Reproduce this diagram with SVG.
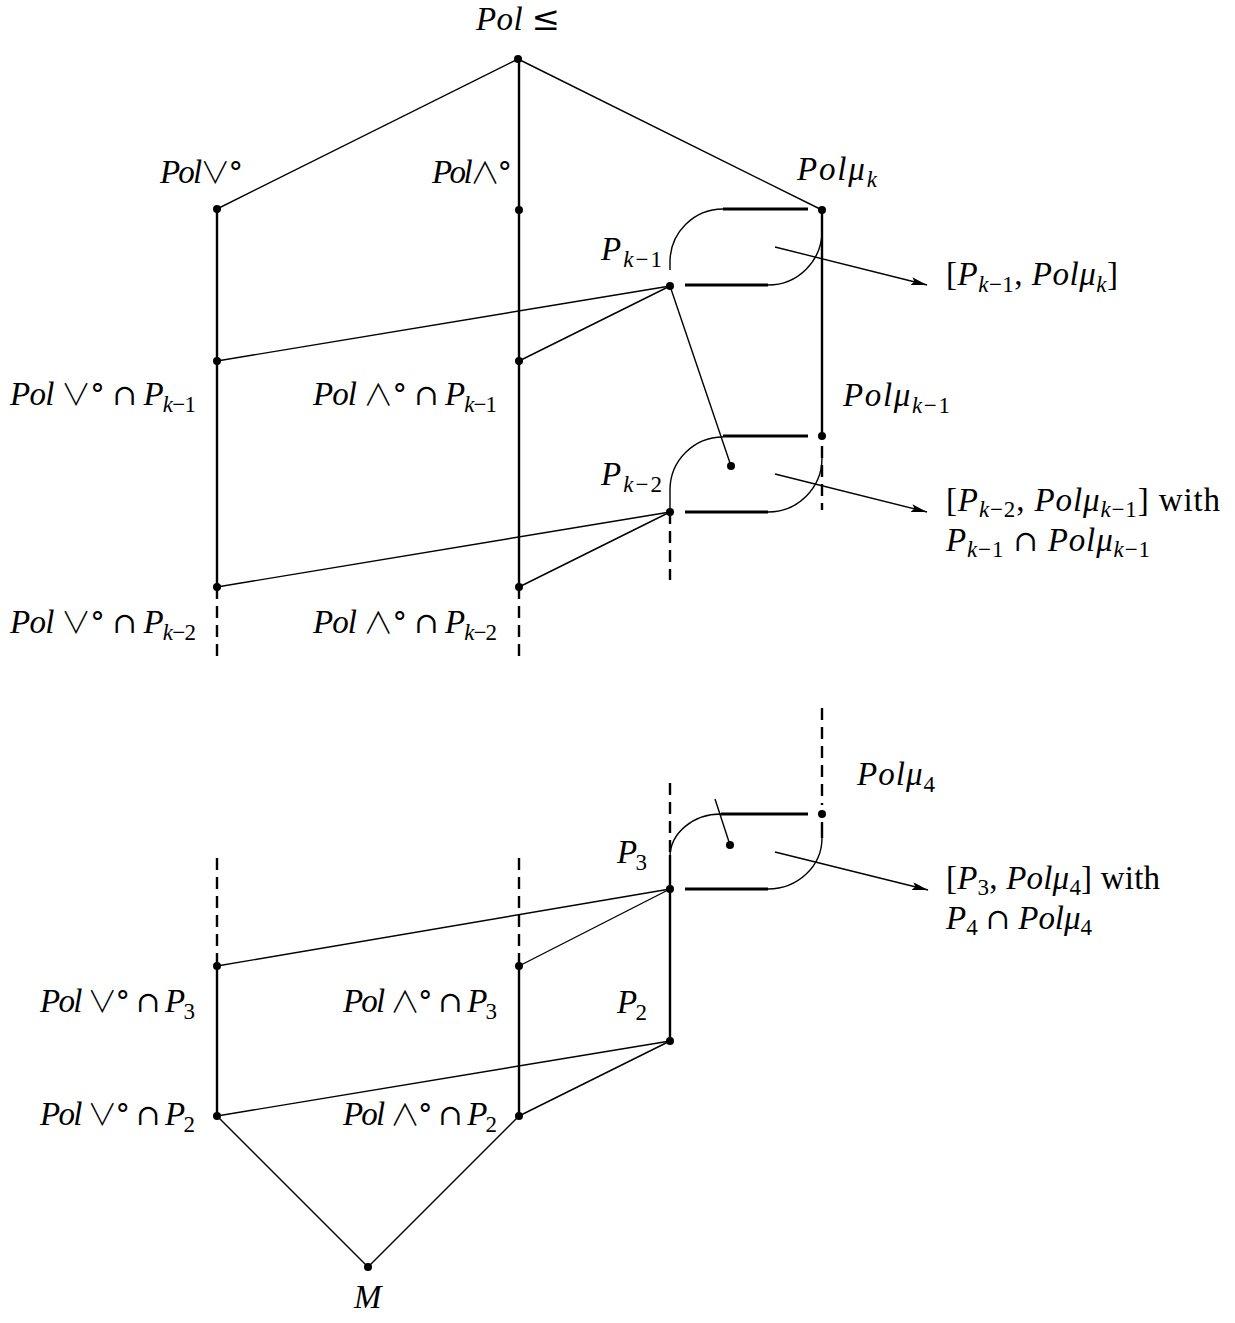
<svg xmlns="http://www.w3.org/2000/svg" width="1235" height="1323" viewBox="0 0 1235 1323">
<defs>
<style>
.thin{stroke:#000;stroke-width:1.4;fill:none}
.v{stroke:#000;stroke-width:2.4;fill:none}
.d{stroke:#000;stroke-width:2.4;fill:none;stroke-dasharray:12 7}
.b{stroke:#000;stroke-width:3;fill:none}
.arr{stroke:#000;stroke-width:1.4;fill:none;marker-end:url(#ah)}
.dot{fill:#000}
text{font-family:"Liberation Serif","DejaVu Serif",serif;font-size:33px;fill:#000}
.i{font-style:italic}
.s{font-size:23px}
.m{font-family:"DejaVu Serif","Liberation Serif",serif;font-size:29px}
.w{font-family:"Noto Sans CJK JP","DejaVu Serif",sans-serif;font-weight:300;font-size:30px}
</style>
<marker id="ah" viewBox="0 0 16 8" refX="16" refY="4" markerWidth="16" markerHeight="8" markerUnits="userSpaceOnUse" orient="auto">
<path d="M0,0 L16,4 L0,8 L3,4 Z" fill="#000"/>
</marker>
</defs>
<g id="connectors">
<line class="thin" x1="518" y1="59" x2="217" y2="209"/>
<line class="thin" x1="518" y1="59" x2="822" y2="210"/>
<line class="v" x1="519" y1="59" x2="519" y2="587"/>
<line class="d" x1="519" y1="587" x2="519" y2="660"/>
<line class="v" x1="217" y1="209" x2="217" y2="587"/>
<line class="d" x1="217" y1="587" x2="217" y2="660"/>
<line class="v" x1="822" y1="210" x2="822" y2="436"/>
<line class="d" x1="822" y1="446" x2="822" y2="510"/>
<line class="thin" x1="217" y1="361" x2="670" y2="286"/>
<line class="thin" x1="519" y1="361" x2="670" y2="286"/>
<line class="thin" x1="670" y1="286" x2="731" y2="466"/>
<line class="thin" x1="217" y1="587" x2="670" y2="512"/>
<line class="thin" x1="519" y1="587" x2="670" y2="512"/>
<line class="d" x1="670" y1="512" x2="670" y2="580"/>
<path class="thin" d="M670,270 L670,262 A53,53 0 0 1 723,209"/>
<line class="b" x1="723" y1="209" x2="808" y2="209"/>
<line class="b" x1="685" y1="285" x2="768" y2="285"/>
<path class="thin" d="M768,285 A54,54 0 0 0 822,231"/>
<line class="arr" x1="775" y1="247" x2="927" y2="285"/>
<path class="thin" d="M670,512 L670,490 A53,53 0 0 1 723,437"/>
<line class="b" x1="723" y1="436" x2="808" y2="436"/>
<line class="b" x1="685" y1="512" x2="768" y2="512"/>
<path class="thin" d="M768,512 A54,54 0 0 0 822,458"/>
<line class="arr" x1="775" y1="474" x2="927" y2="512"/>
<line class="d" x1="217" y1="858" x2="217" y2="966"/>
<line class="v" x1="217" y1="966" x2="217" y2="1116"/>
<line class="d" x1="519" y1="858" x2="519" y2="966"/>
<line class="v" x1="519" y1="966" x2="519" y2="1116"/>
<line class="d" x1="670" y1="783" x2="670" y2="853"/>
<line class="v" x1="670" y1="855" x2="670" y2="1041"/>
<line class="d" x1="822" y1="708" x2="822" y2="805"/>
<line class="v" x1="822" y1="822" x2="822" y2="838"/>
<path class="thin" d="M670,857 A51,43 0 0 1 721,814"/>
<line class="b" x1="721" y1="814" x2="808" y2="814"/>
<line class="b" x1="685" y1="889" x2="768" y2="889"/>
<path class="thin" d="M768,889 A54,51 0 0 0 822,838"/>
<line class="thin" x1="730" y1="845" x2="715" y2="799"/>
<line class="arr" x1="775" y1="852" x2="928" y2="890"/>
<line class="thin" x1="217" y1="966" x2="670" y2="889"/>
<line class="thin" x1="519" y1="966" x2="670" y2="889"/>
<line class="thin" x1="217" y1="1116" x2="670" y2="1041"/>
<line class="thin" x1="519" y1="1116" x2="670" y2="1041"/>
<line class="thin" x1="217" y1="1116" x2="368" y2="1267"/>
<line class="thin" x1="519" y1="1116" x2="368" y2="1267"/>
</g>
<g id="n-top"><circle class="dot" cx="518" cy="59" r="4"/><text x="476" y="30" textLength="84" lengthAdjust="spacing"><tspan class="i">Pol</tspan> <tspan class="m" style="font-size:34px">≤</tspan></text></g>
<g id="n-polor"><circle class="dot" cx="217" cy="209" r="4"/><text x="160" y="183" textLength="83" lengthAdjust="spacing"><tspan class="i">Pol</tspan><tspan class="w">∨</tspan><tspan class="m">°</tspan></text></g>
<g id="n-poland"><circle class="dot" cx="519" cy="210" r="4"/><text x="432" y="183" textLength="80" lengthAdjust="spacing"><tspan class="i">Pol</tspan><tspan class="w">∧</tspan><tspan class="m">°</tspan></text></g>
<g id="n-polmuk"><circle class="dot" cx="822" cy="210" r="4"/><text x="797" y="180" textLength="80" lengthAdjust="spacing"><tspan class="i">Polμ</tspan><tspan class="s i" dy="7">k</tspan></text></g>
<g id="n-pk1"><circle class="dot" cx="670" cy="286" r="4"/><text x="601" y="260" textLength="61" lengthAdjust="spacing"><tspan class="i">P</tspan><tspan class="s" dy="7"><tspan class="i">k</tspan>−1</tspan></text></g>
<g id="n-or-pk1"><circle class="dot" cx="217" cy="361" r="4"/><text x="10" y="405" textLength="186" lengthAdjust="spacing"><tspan class="i">Pol</tspan> <tspan class="w">∨</tspan><tspan class="m">° ∩</tspan> <tspan class="i">P</tspan><tspan class="s" dy="7"><tspan class="i">k</tspan>−1</tspan></text></g>
<g id="n-and-pk1"><circle class="dot" cx="519" cy="361" r="4"/><text x="313" y="405" textLength="184" lengthAdjust="spacing"><tspan class="i">Pol</tspan> <tspan class="w">∧</tspan><tspan class="m">° ∩</tspan> <tspan class="i">P</tspan><tspan class="s" dy="7"><tspan class="i">k</tspan>−1</tspan></text></g>
<g id="n-polmuk1"><circle class="dot" cx="822" cy="436" r="4"/><text x="843" y="406" textLength="107" lengthAdjust="spacing"><tspan class="i">Polμ</tspan><tspan class="s" dy="7"><tspan class="i">k</tspan>−1</tspan></text></g>
<g id="n-mid1"><circle class="dot" cx="731" cy="466" r="4"/></g>
<g id="n-pk2"><circle class="dot" cx="670" cy="512" r="4"/><text x="601" y="485" textLength="61" lengthAdjust="spacing"><tspan class="i">P</tspan><tspan class="s" dy="7"><tspan class="i">k</tspan>−2</tspan></text></g>
<g id="n-or-pk2"><circle class="dot" cx="217" cy="587" r="4"/><text x="10" y="633" textLength="186" lengthAdjust="spacing"><tspan class="i">Pol</tspan> <tspan class="w">∨</tspan><tspan class="m">° ∩</tspan> <tspan class="i">P</tspan><tspan class="s" dy="7"><tspan class="i">k</tspan>−2</tspan></text></g>
<g id="n-and-pk2"><circle class="dot" cx="519" cy="587" r="4"/><text x="313" y="633" textLength="184" lengthAdjust="spacing"><tspan class="i">Pol</tspan> <tspan class="w">∧</tspan><tspan class="m">° ∩</tspan> <tspan class="i">P</tspan><tspan class="s" dy="7"><tspan class="i">k</tspan>−2</tspan></text></g>
<g id="lbl-int1"><text x="946" y="285" textLength="172" lengthAdjust="spacing">[<tspan class="i">P</tspan><tspan class="s" dy="7"><tspan class="i">k</tspan>−1</tspan><tspan dy="-7">, </tspan><tspan class="i">Polμ</tspan><tspan class="s i" dy="7">k</tspan><tspan dy="-7">]</tspan></text></g>
<g id="lbl-int2"><text x="946" y="511" textLength="274" lengthAdjust="spacing">[<tspan class="i">P</tspan><tspan class="s" dy="6"><tspan class="i">k</tspan>−2</tspan><tspan dy="-6">, </tspan><tspan class="i">Polμ</tspan><tspan class="s" dy="6"><tspan class="i">k</tspan>−1</tspan><tspan dy="-6">] with</tspan></text>
<text x="946" y="551" textLength="204" lengthAdjust="spacing"><tspan class="i">P</tspan><tspan class="s" dy="6"><tspan class="i">k</tspan>−1</tspan><tspan dy="-6"> </tspan><tspan class="m">∩</tspan> <tspan class="i">Polμ</tspan><tspan class="s" dy="6"><tspan class="i">k</tspan>−1</tspan></text></g>
<g id="n-polmu4"><circle class="dot" cx="822" cy="814" r="4"/><text x="857" y="785" textLength="78" lengthAdjust="spacing"><tspan class="i">Polμ</tspan><tspan class="s" dy="7">4</tspan></text></g>
<g id="n-mid2"><circle class="dot" cx="730" cy="845" r="4"/></g>
<g id="n-p3"><circle class="dot" cx="670" cy="889" r="4"/><text x="617" y="863" textLength="30" lengthAdjust="spacing"><tspan class="i">P</tspan><tspan class="s" dy="7">3</tspan></text></g>
<g id="lbl-int3"><text x="946" y="889" textLength="214" lengthAdjust="spacing">[<tspan class="i">P</tspan><tspan class="s" dy="6">3</tspan><tspan dy="-6">, </tspan><tspan class="i">Polμ</tspan><tspan class="s" dy="6">4</tspan><tspan dy="-6">] with</tspan></text>
<text x="946" y="929" textLength="146" lengthAdjust="spacing"><tspan class="i">P</tspan><tspan class="s" dy="6">4</tspan><tspan dy="-6"> </tspan><tspan class="m">∩</tspan> <tspan class="i">Polμ</tspan><tspan class="s" dy="6">4</tspan></text></g>
<g id="n-or-p3"><circle class="dot" cx="217" cy="966" r="4"/><text x="40" y="1012" textLength="155" lengthAdjust="spacing"><tspan class="i">Pol</tspan> <tspan class="w">∨</tspan><tspan class="m">° ∩</tspan> <tspan class="i">P</tspan><tspan class="s" dy="7">3</tspan></text></g>
<g id="n-and-p3"><circle class="dot" cx="519" cy="966" r="4"/><text x="343" y="1012" textLength="154" lengthAdjust="spacing"><tspan class="i">Pol</tspan> <tspan class="w">∧</tspan><tspan class="m">° ∩</tspan> <tspan class="i">P</tspan><tspan class="s" dy="7">3</tspan></text></g>
<g id="n-p2"><circle class="dot" cx="670" cy="1041" r="4"/><text x="617" y="1013" textLength="30" lengthAdjust="spacing"><tspan class="i">P</tspan><tspan class="s" dy="7">2</tspan></text></g>
<g id="n-or-p2"><circle class="dot" cx="217" cy="1116" r="4"/><text x="40" y="1125" textLength="155" lengthAdjust="spacing"><tspan class="i">Pol</tspan> <tspan class="w">∨</tspan><tspan class="m">° ∩</tspan> <tspan class="i">P</tspan><tspan class="s" dy="7">2</tspan></text></g>
<g id="n-and-p2"><circle class="dot" cx="519" cy="1116" r="4"/><text x="343" y="1125" textLength="154" lengthAdjust="spacing"><tspan class="i">Pol</tspan> <tspan class="w">∧</tspan><tspan class="m">° ∩</tspan> <tspan class="i">P</tspan><tspan class="s" dy="7">2</tspan></text></g>
<g id="n-m"><circle class="dot" cx="368" cy="1267" r="4"/><text x="354" y="1308" class="i">M</text></g>
</svg>
